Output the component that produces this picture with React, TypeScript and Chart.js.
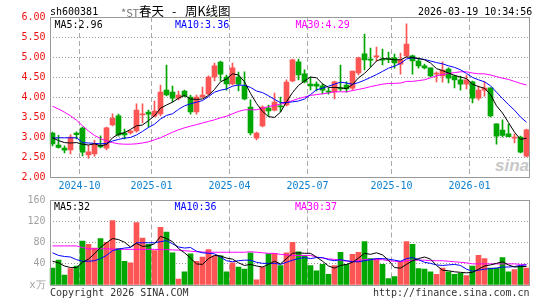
import React, { useEffect, useRef } from 'react';
import { Chart, registerables } from 'chart.js';

Chart.register(...registerables);

// ---------- data ----------
const weeks = [
  '2024-09-02','2024-09-09','2024-09-16','2024-09-23','2024-09-30','2024-10-07','2024-10-14','2024-10-21','2024-10-28','2024-11-04',
  '2024-11-11','2024-11-18','2024-11-25','2024-12-02','2024-12-09','2024-12-16','2024-12-23','2024-12-30','2025-01-06','2025-01-13',
  '2025-01-20','2025-01-27','2025-02-03','2025-02-10','2025-02-17','2025-02-24','2025-03-03','2025-03-10','2025-03-17','2025-03-24',
  '2025-03-31','2025-04-07','2025-04-14','2025-04-21','2025-04-28','2025-05-05','2025-05-12','2025-05-19','2025-05-26','2025-06-02',
  '2025-06-09','2025-06-16','2025-06-23','2025-06-30','2025-07-07','2025-07-14','2025-07-21','2025-07-28','2025-08-04','2025-08-11',
  '2025-08-18','2025-08-25','2025-09-01','2025-09-08','2025-09-15','2025-09-22','2025-09-29','2025-10-06','2025-10-13','2025-10-20',
  '2025-10-27','2025-11-03','2025-11-10','2025-11-17','2025-11-24','2025-12-01','2025-12-08','2025-12-15','2025-12-22','2025-12-29',
  '2026-01-05','2026-01-12','2026-01-19','2026-01-26','2026-02-02','2026-02-09','2026-02-23','2026-03-02','2026-03-09','2026-03-16',
];

const xTickIndex = [5, 17, 30, 43, 57, 70];
const xTickLabels = ['2024-10', '2025-01', '2025-04', '2025-07', '2025-10', '2026-01'];

const opens = [
  3.10,2.80,2.72,2.68,3.10,3.22,2.55,2.58,2.80,2.72,
  3.30,3.53,3.10,3.10,3.15,3.55,3.62,3.52,3.58,4.17,
  4.12,3.97,4.15,4.00,3.63,4.00,4.08,4.50,4.87,4.50,
  4.33,4.50,4.27,3.75,2.97,3.28,3.72,3.67,3.78,3.80,
  4.40,4.88,4.58,4.32,4.32,4.28,4.15,4.13,4.23,4.30,
  4.22,4.60,5.08,4.95,5.00,4.95,4.96,4.98,4.82,5.03,
  5.03,4.90,4.78,4.73,4.57,4.53,4.70,4.52,4.43,4.32,
  4.38,3.97,4.17,4.23,3.33,3.17,3.08,2.97,3.00,2.52,
];
const highs = [
  3.12,3.04,2.78,3.06,3.13,3.25,2.80,2.92,3.03,3.25,
  3.58,3.57,3.20,3.17,3.83,3.83,3.67,3.90,4.30,4.80,
  4.27,4.15,4.17,4.05,4.05,4.25,4.53,4.85,4.90,4.55,
  4.85,4.62,4.63,3.93,3.12,3.78,3.80,4.10,4.00,4.43,
  4.95,4.95,4.68,4.50,4.38,4.33,4.22,4.40,4.80,4.38,
  4.65,5.00,5.57,5.22,5.25,5.20,5.12,5.07,5.10,5.83,
  5.05,4.98,4.82,4.73,4.63,4.88,4.73,4.55,4.52,4.55,
  4.40,4.27,4.38,4.23,3.33,3.43,3.32,3.07,3.02,3.20,
];
const lows = [
  2.78,2.72,2.60,2.58,2.95,2.53,2.47,2.52,2.73,2.68,
  3.28,3.02,2.95,3.07,3.12,3.35,3.25,3.50,3.53,4.03,
  3.88,3.93,4.00,3.57,3.57,3.98,4.05,4.40,4.40,4.17,
  4.30,4.15,3.93,3.05,2.93,3.25,3.52,3.65,3.63,3.78,
  4.38,4.43,4.35,4.18,4.15,4.08,4.07,3.95,4.15,4.12,
  4.18,4.55,4.68,4.75,4.90,4.80,4.86,4.72,4.57,5.00,
  4.57,4.72,4.70,4.50,4.38,4.37,4.35,4.23,4.17,4.20,
  3.85,3.92,4.02,3.50,2.82,3.00,3.00,2.85,2.60,2.50,
];
const closes = [
  2.83,2.74,2.67,3.00,3.06,2.62,2.63,2.83,2.75,3.23,
  3.47,3.05,3.05,3.15,3.67,3.58,3.57,3.65,4.12,4.05,
  3.97,4.05,4.03,3.63,4.00,4.05,4.50,4.78,4.57,4.33,
  4.73,4.32,3.95,3.10,3.10,3.75,3.65,3.87,3.75,4.37,
  4.93,4.55,4.38,4.28,4.27,4.17,4.12,4.38,4.20,4.20,
  4.65,4.98,4.93,4.92,5.03,4.92,4.94,4.85,4.93,5.32,
  4.90,4.78,4.73,4.53,4.60,4.67,4.47,4.43,4.32,4.43,
  3.97,4.17,4.22,3.53,3.02,3.04,3.01,2.99,2.62,3.18,
];

const ma5 = [
  2.98,2.91,2.86,2.85,2.86,2.82,2.80,2.83,2.78,2.81,
  2.98,3.07,3.11,3.19,3.28,3.30,3.41,3.53,3.72,3.80,
  3.87,3.97,4.04,3.95,3.94,3.95,4.04,4.19,4.38,4.45,
  4.58,4.55,4.38,4.09,3.84,3.64,3.51,3.49,3.62,3.88,
  4.11,4.29,4.40,4.50,4.48,4.33,4.24,4.24,4.23,4.21,
  4.31,4.48,4.59,4.74,4.90,4.96,4.95,4.93,4.93,5.00,
  4.99,4.96,4.93,4.85,4.71,4.66,4.60,4.54,4.50,4.46,
  4.32,4.26,4.22,4.06,3.78,3.60,3.36,3.12,2.94,2.97,
];
const ma10 = [
  2.97,2.98,2.98,2.98,2.98,2.86,2.85,2.84,2.83,2.84,
  2.90,2.94,2.97,2.99,3.05,3.14,3.24,3.32,3.45,3.54,
  3.58,3.69,3.78,3.83,3.87,3.91,4.01,4.12,4.17,4.20,
  4.27,4.30,4.29,4.24,4.15,4.11,4.03,3.94,3.86,3.86,
  3.88,3.90,3.95,4.06,4.18,4.22,4.27,4.32,4.37,4.35,
  4.32,4.36,4.42,4.49,4.56,4.64,4.72,4.77,4.84,4.95,
  4.98,4.96,4.94,4.90,4.86,4.83,4.78,4.74,4.68,4.59,
  4.49,4.43,4.38,4.28,4.12,3.96,3.81,3.67,3.50,3.37,
];
const ma30 = [
  3.77,3.70,3.62,3.53,3.42,3.28,3.15,3.04,2.96,2.90,
  2.86,2.83,2.82,2.82,2.83,2.85,2.88,2.93,2.98,3.05,
  3.12,3.18,3.23,3.27,3.31,3.35,3.39,3.43,3.48,3.52,
  3.58,3.64,3.68,3.68,3.68,3.72,3.76,3.79,3.82,3.86,
  3.91,3.96,4.00,4.04,4.06,4.08,4.10,4.13,4.13,4.13,
  4.16,4.19,4.22,4.26,4.29,4.32,4.34,4.34,4.35,4.39,
  4.39,4.41,4.43,4.48,4.53,4.56,4.59,4.61,4.63,4.63,
  4.60,4.58,4.58,4.55,4.51,4.47,4.44,4.39,4.34,4.30,
];

const volumes = [
  32,47,19,31,36,83,77,70,88,81,
  122,69,45,42,118,89,77,65,109,100,
  61,11,25,59,45,53,67,55,55,25,
  42,34,30,61,10,34,59,60,37,61,
  81,63,56,37,27,39,20,37,62,39,
  58,62,82,50,50,39,12,16,44,82,
  77,31,30,25,20,32,25,20,22,18,
  36,56,50,32,32,52,25,29,36,32,
];
const volMa5 = [
  45,42,36,33,33,43,49,59,71,80,
  88,86,81,72,79,73,74,78,92,88,
  82,69,61,51,40,39,50,56,55,51,
  49,42,37,39,36,34,39,45,40,50,
  60,61,60,60,53,45,36,32,37,39,
  43,51,60,58,61,57,47,33,32,39,
  46,50,53,49,37,28,27,25,24,23,
  24,30,36,38,41,44,38,34,35,35,
];
const volMa10 = [
  61,56,54,53,48,45,45,46,50,56,
  65,68,70,71,80,80,80,80,82,84,
  78,72,70,71,64,61,60,59,53,46,
  44,46,47,47,43,41,41,41,39,43,
  47,50,52,50,52,52,48,46,48,46,
  44,44,46,48,50,50,49,47,45,50,
  52,48,43,41,38,37,38,39,37,30,
  26,28,30,31,32,34,34,35,37,38,
];
const volMa30 = [
  74,74,74,74,74,71,68.5,68.5,68.5,68.5,
  68,68,67.5,67.5,67.5,67.5,67.5,67.5,67,67,
  66.5,66,65,64,63,62.5,62,62,62,62,
  62,62,62,63,62,61,60,60,58,57,
  56,56,56,56,53,51,49.5,48.5,47,45,
  45,46.5,48,48,48,48,46,45,44,46,
  47,47,47,46,46,46,45,44,43,42,
  40,40,40,40,40,40,40,40,39,39,
];

const priceTicks = [2, 2.5, 3, 3.5, 4, 4.5, 5, 5.5, 6];
const volTicks = [0, 40, 80, 120, 160];

const legendPrice = [
  { text: 'MA5:2.96', color: '#000000', x: 54.5 },
  { text: 'MA10:3.36', color: '#0000ff', x: 175 },
  { text: 'MA30:4.29', color: '#ff00ff', x: 295.5 },
];
const legendVol = [
  { text: 'MA5:32', color: '#000000', x: 54 },
  { text: 'MA10:36', color: '#0000ff', x: 174.5 },
  { text: 'MA30:37', color: '#ff00ff', x: 295 },
];

// ---------- styles ----------
const MONO = "'DejaVu Sans Mono', monospace";
const CJK = "'Noto Sans CJK SC', sans-serif";
const RED = '#fd5454';
const GREEN = '#01a701';

const candleColors = closes.map((c, i) => (c >= opens[i] ? RED : GREEN));

const frame = {
  id: 'frame',
  afterDraw(chart: any) {
    const { ctx, chartArea } = chart;
    const l = Math.round(chartArea.left) + 0.5;
    const t = Math.floor(chartArea.top) + 0.5;
    const r = Math.floor(chartArea.right) + 0.5;
    const b = Math.floor(chartArea.bottom) + 0.5;
    ctx.save();
    ctx.strokeStyle = '#999999';
    ctx.lineWidth = 1;
    ctx.setLineDash([]);
    ctx.strokeRect(l, t, r - l, b - t);
    ctx.restore();
  },
};

const xGridColor = (c: any) => (xTickIndex.includes(c.index) ? '#aaaaaa' : 'rgba(0,0,0,0)');

function lineDs(label: string, data: number[], color: string) {
  return {
    type: 'line' as const,
    label,
    data,
    borderColor: color,
    borderWidth: 1,
    pointRadius: 0,
    tension: 0,
    fill: false,
    order: 0,
  };
}

export default function App() {
  const priceRef = useRef<HTMLCanvasElement>(null);
  const volRef = useRef<HTMLCanvasElement>(null);

  useEffect(() => {
    Chart.defaults.font.family = MONO;
    const price = new Chart(priceRef.current as HTMLCanvasElement, {
      type: 'bar',
      data: {
        labels: weeks,
        datasets: [
          lineDs('MA5', ma5, '#000000'),
          lineDs('MA10', ma10, '#0000ff'),
          lineDs('MA30', ma30, '#ff00ff'),
          {
            type: 'bar',
            label: 'body',
            data: opens.map((o, i) => [o, closes[i]]),
            backgroundColor: candleColors,
            barThickness: 5,
            grouped: false,
            minBarLength: 1,
            order: 1,
          } as any,
          {
            type: 'bar',
            label: 'wick',
            data: lows.map((l, i) => [l, highs[i]]),
            backgroundColor: candleColors,
            barThickness: 1,
            grouped: false,
            order: 2,
          } as any,
        ],
      },
      options: {
        responsive: false,
        animation: false,
        devicePixelRatio: 1,
        events: [],
        layout: { padding: { top: 17, left: 0, right: 15.5, bottom: 0 } },
        plugins: { legend: { display: false }, tooltip: { enabled: false } },
        scales: {
          x: {
            type: 'category',
            offset: true,
            grid: { offset: true, color: xGridColor, lineWidth: 1, drawTicks: false },
            border: { display: false, dash: [5, 3] },
            ticks: {
              autoSkip: false,
              maxRotation: 0,
              minRotation: 0,
              padding: 3,
              labelOffset: -3,
              color: '#0a7fcf',
              font: { family: MONO, size: 10 },
              callback: (_v: any, i: number) => {
                const k = xTickIndex.indexOf(i);
                return k >= 0 ? xTickLabels[k] : '';
              },
            },
            afterFit: (s: any) => { s.height = 23; },
          },
          y: {
            type: 'linear',
            min: 2,
            max: 6,
            afterBuildTicks: (s: any) => { s.ticks = priceTicks.map((v) => ({ value: v })); },
            grid: { color: '#999999', lineWidth: 1, drawTicks: false },
            border: { display: false, dash: [1, 2] },
            ticks: {
              padding: 4,
              color: '#ee1111',
              font: { family: MONO, size: 10 },
              callback: (v: any) => Number(v).toFixed(2),
            },
            afterFit: (s: any) => { s.width = 49.5; },
          },
        },
      } as any,
      plugins: [frame],
    });

    const vol = new Chart(volRef.current as HTMLCanvasElement, {
      type: 'bar',
      data: {
        labels: weeks,
        datasets: [
          lineDs('MA5', volMa5, '#000000'),
          lineDs('MA10', volMa10, '#0000ff'),
          lineDs('MA30', volMa30, '#ff00ff'),
          {
            type: 'bar',
            label: 'vol',
            data: volumes,
            backgroundColor: candleColors,
            barThickness: 5,
            grouped: false,
            order: 1,
          } as any,
        ],
      },
      options: {
        responsive: false,
        animation: false,
        devicePixelRatio: 1,
        events: [],
        layout: { padding: { top: 10.5, left: 0, right: 15.5, bottom: 15 } },
        plugins: { legend: { display: false }, tooltip: { enabled: false } },
        scales: {
          x: {
            type: 'category',
            offset: true,
            grid: { offset: true, color: xGridColor, lineWidth: 1, drawTicks: false },
            border: { display: false, dash: [5, 3] },
            ticks: { display: false, autoSkip: false, maxRotation: 0 },
            afterFit: (s: any) => { s.height = 0; },
          },
          y: {
            type: 'linear',
            min: 0,
            max: 160,
            afterBuildTicks: (s: any) => { s.ticks = volTicks.map((v) => ({ value: v })); },
            grid: { color: '#999999', lineWidth: 1, drawTicks: false },
            border: { display: false, dash: [1, 2] },
            ticks: {
              padding: 4,
              color: '#a0a0a0',
              font: { family: MONO, size: 10 },
              callback: (v: any) => (Number(v) === 0 ? 'x万' : String(v)),
            },
            afterFit: (s: any) => { s.width = 49.5; },
          },
        },
      } as any,
      plugins: [frame],
    });

    return () => {
      price.destroy();
      vol.destroy();
    };
  }, []);

  const txt = (key: string, text: string, x: number, y: number, color: string, size = 10, family = MONO, lh = 12) => (
    <div
      key={key}
      style={{
        position: 'absolute',
        left: x,
        top: y,
        color,
        fontSize: size,
        fontFamily: family,
        lineHeight: `${lh}px`,
        whiteSpace: 'nowrap',
      }}
    >
      {text}
    </div>
  );

  return (
    <div
      style={{
        position: 'fixed',
        left: 0,
        top: 0,
        width: 545,
        height: 300,
        background: '#ffffff',
        overflow: 'hidden',
      }}
    >
      <div
        style={{
          position: 'absolute',
          left: 495,
          top: 157,
          color: '#c8c8c8',
          fontSize: 17,
          fontFamily: "'Liberation Sans', Arial, sans-serif",
          fontWeight: 'bold',
          fontStyle: 'italic',
          lineHeight: '17px',
        }}
      >
        sina
      </div>
      <canvas
        ref={priceRef}
        width={545}
        height={200}
        style={{ position: 'absolute', left: 0, top: 0, width: 545, height: 200 }}
      />
      <canvas
        ref={volRef}
        width={545}
        height={110}
        style={{ position: 'absolute', left: 0, top: 190, width: 545, height: 110 }}
      />
      {txt('code', 'sh600381', 50, 5.5, '#000000')}
      {txt('st', '*ST', 121, 4.5, '#777777', 11, CJK, 14)}
      {txt('name', '春天', 139, 3.5, '#000000', 12.5, CJK, 14)}
      {txt('dash', '-', 172, 3.5, '#000000', 12.5, CJK, 14)}
      {txt('kind', '周K线图', 185, 3.5, '#000000', 12.5, CJK, 14)}
      {txt('time', '2026-03-19 10:34:56', 418, 6, '#000000')}
      {legendPrice.map((l, i) => txt('lp' + i, l.text, l.x, 18.8, l.color))}
      {legendVol.map((l, i) => txt('lv' + i, l.text, l.x, 201.2, l.color))}
      {txt('copy', 'Copyright 2026 SINA.COM', 50, 287, '#333333')}
      {txt('url', 'http://finance.sina.com.cn', 373, 287, '#333333')}
    </div>
  );
}
